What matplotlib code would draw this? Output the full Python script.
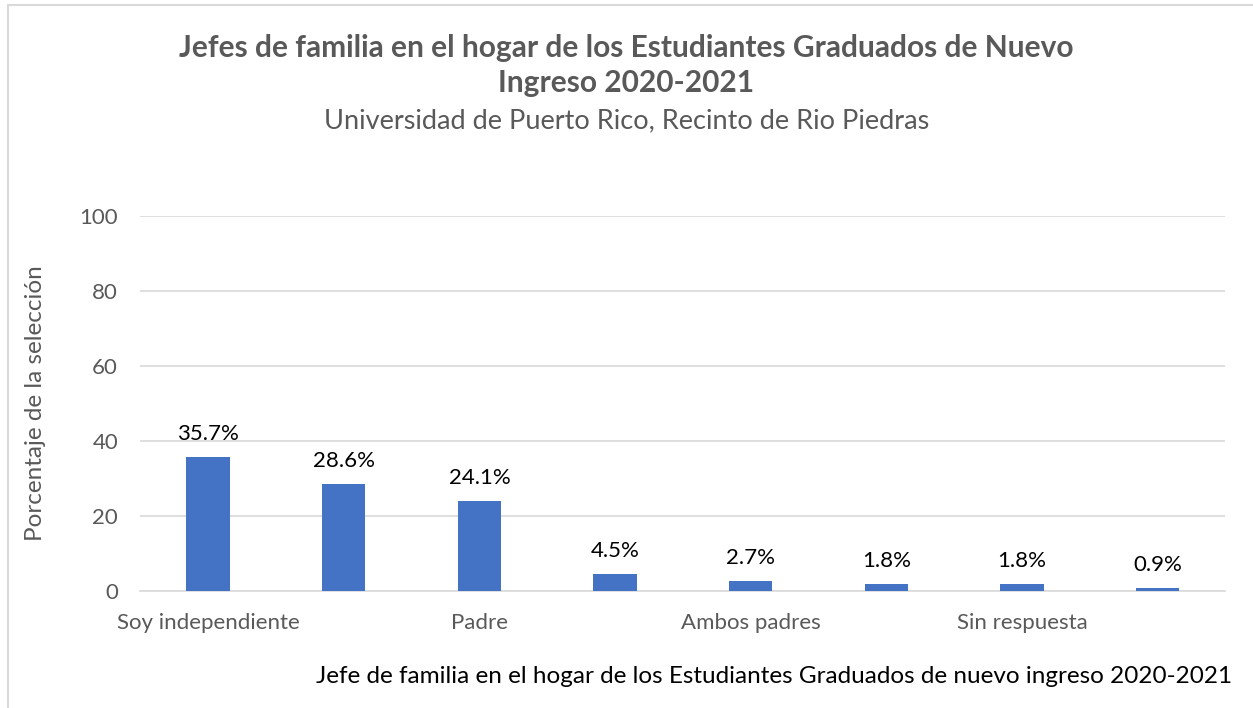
import matplotlib.pyplot as plt
import numpy as np
from matplotlib.patches import Rectangle

# categorías (Excel solo muestra una de cada dos etiquetas)
categorias = ["Soy independiente", "", "Padre", "", "Ambos padres", "", "Sin respuesta", ""]
porcentajes = [35.7, 28.6, 24.1, 4.5, 2.7, 1.8, 1.8, 0.9]
y_ticks = [0, 20, 40, 60, 80, 100]

plt.rcParams["font.family"] = ["Lato", "DejaVu Sans"]
gris = "#595959"

fig = plt.figure(figsize=(12.53, 7.08), dpi=100)
ax = fig.add_axes([0.112, 0.165, 0.866, 0.53])

x = np.arange(len(categorias))
barras = ax.bar(x, porcentajes, width=0.32, color="#4472C4", zorder=3)
for b, v in zip(barras, porcentajes):
    ax.text(b.get_x() + b.get_width() / 2, v + 3.5, "%.1f%%" % v,
            ha="center", va="bottom", fontsize=16, color="black")

ax.set_xlim(-0.5, len(categorias) - 0.5)
ax.set_ylim(0, 100)
ax.set_yticks(y_ticks)
ax.set_xticks(x)
ax.set_xticklabels(categorias)
ax.tick_params(axis="both", length=0, labelsize=16, colors=gris)
ax.tick_params(axis="y", pad=16)
ax.tick_params(axis="x", pad=16)
ax.grid(axis="y", color="#d9d9d9", linewidth=1.2, zorder=0)
for s in ["top", "right", "left"]:
    ax.spines[s].set_visible(False)
ax.spines["bottom"].set_color("#d9d9d9")
ax.spines["bottom"].set_linewidth(1.2)

ax.set_ylabel("Porcentaje de la selección", fontsize=17.5, color=gris, labelpad=24)

fig.text(0.5, 0.908, "Jefes de familia en el hogar de los Estudiantes Graduados de Nuevo\nIngreso 2020-2021",
         ha="center", va="center", fontsize=21.5, fontweight="bold", color=gris, linespacing=1.3)
fig.text(0.5, 0.829, "Universidad de Puerto Rico, Recinto de Rio Piedras",
         ha="center", va="center", fontsize=19.5, color=gris)
fig.text(0.983, 0.044, "Jefe de familia en el hogar de los Estudiantes Graduados de nuevo ingreso 2020-2021",
         ha="right", va="center", fontsize=17.5, color="black")

# marco del gráfico
fig.patches.append(Rectangle((0.006, -0.01), 1.0, 1.003, transform=fig.transFigure,
                             fill=False, edgecolor="#d9d9d9", linewidth=1.5))

fig.savefig("out.png", dpi=100)
